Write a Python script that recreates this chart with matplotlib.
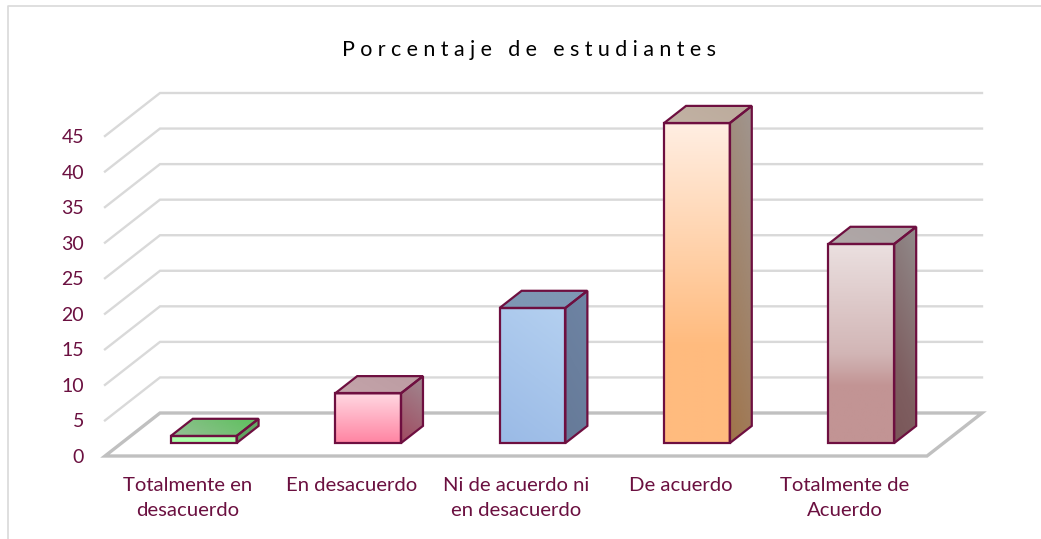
import numpy as np
import matplotlib
matplotlib.use('Agg')
import matplotlib.pyplot as plt
from matplotlib.colors import LinearSegmentedColormap
from matplotlib.lines import Line2D
from matplotlib.patches import Polygon

# data
categories = ['Totalmente en\ndesacuerdo', 'En desacuerdo', 'Ni de acuerdo ni\nen desacuerdo',
              'De acuerdo', 'Totalmente de\nAcuerdo']
values = [1, 7, 19, 45, 28]
y_ticks = list(range(0, 50, 5))
title = '\u2005'.join('Porcentaje de estudiantes')

# colours: (start, end) gradients, bottom to top
front_colors = [
    [(0, '#A6FFA6'), (1, '#B0FFB0')],
    [(0, '#FF84A2'), (1, '#FFD8E2')],
    [(0, '#9ABAE6'), (1, '#B4D0F0')],
    [(0, '#FFBB7E'), (0.3, '#FFBB7E'), (1, '#FFEEE2')],
    [(0, '#C29494'), (0.28, '#C29494'), (0.45, '#D2B6B6'), (1, '#EBE0E0')],
]
side_colors = [
    [(0, '#5F9F5F'), (1, '#66AA66')],
    [(0, '#A04A60'), (1, '#A08890')],
    [(0, '#667A98'), (1, '#6E84A4')],
    [(0, '#A0744A'), (1, '#A09690')],
    [(0, '#7A5658'), (0.3, '#7E5E60'), (1, '#928C8C')],
]
top_colors = [
    [(0, '#95C095'), (1, '#5CC05C')],
    [(0, '#C4A4AA'), (1, '#BC9CA2')],
    [(0, '#7E97B4'), (1, '#7E97B4')],
    [(0, '#C2B2A4'), (1, '#BCAB9C')],
    [(0, '#B0A8A8'), (1, '#ABA2A2')],
]
edge = '#6E0F40'
text_color = '#6B1040'
grid_color = '#D9D9D9'
floor_color = '#C0C0C0'

# layout in pixels
W, H = 1041, 539
x0_px, x1_px = 105, 927
y0_px, y45_px = 456, 136
DX, DY = 55 / ((x1_px - x0_px) / 5), 43 / ((y0_px - y45_px) / 45)
bar_w = 0.4
depth_front, depth_back = 0.3, 0.7


def project(x, y, depth):
    return (x + depth * DX, y + depth * DY)


def shade(ax, verts, stops, angle):
    # gradient image clipped to the face
    verts = np.array(verts)
    cmap = LinearSegmentedColormap.from_list('f', stops)
    u, v = np.meshgrid(np.linspace(0, 1, 64), np.linspace(0, 1, 128))
    c, s = np.cos(np.radians(angle)), np.sin(np.radians(angle))
    t = (c * u + s * v) / (abs(c) + abs(s))
    if c < 0:
        t = t - t.min()
    ext = [verts[:, 0].min(), verts[:, 0].max(), verts[:, 1].min(), verts[:, 1].max()]
    im = ax.imshow(t, cmap=cmap, vmin=0, vmax=1, extent=ext, origin='lower',
                   aspect='auto', zorder=3, interpolation='bilinear')
    im.set_clip_path(Polygon(verts, transform=ax.transData))
    ax.add_patch(Polygon(verts, closed=True, fill=False, edgecolor=edge, lw=1.6,
                         joinstyle='miter', zorder=4, clip_on=False))


fig = plt.figure(figsize=(W / 100, H / 100), dpi=100)
ax = fig.add_axes([0, 0, 1, 1])
fig.patch.set_facecolor('white')

x_max = 5 + DX
y_max = 45 + DY
py = (y0_px - y45_px) / 45
ax.set_position([x0_px / W, 1 - y0_px / H, (x1_px - x0_px) / 5 * x_max / W, py * y_max / H])

# walls and floor
for tick in y_ticks[1:]:
    p0 = project(0, tick, 0)
    p1 = project(0, tick, 1)
    p2 = project(5, tick, 1)
    ax.plot([p0[0], p1[0], p2[0]], [p0[1], p1[1], p2[1]], color=grid_color, lw=1.7, zorder=1,
            solid_joinstyle='miter', clip_on=False)
floor = [project(0, 0, 0), project(5, 0, 0), project(5, 0, 1), project(0, 0, 1)]
ax.add_patch(Polygon(floor, closed=True, fill=False, edgecolor=floor_color, lw=2.4, zorder=2,
                     joinstyle='miter', clip_on=False))

# bars
for i, val in enumerate(values):
    left = i + 0.5 - bar_w / 2
    right = i + 0.5 + bar_w / 2
    fb = project(left, 0, depth_front)
    fr = project(right, 0, depth_front)
    ft_l = project(left, val, depth_front)
    ft_r = project(right, val, depth_front)
    bb = project(right, 0, depth_back)
    bt_r = project(right, val, depth_back)
    bt_l = project(left, val, depth_back)
    shade(ax, [fr, bb, bt_r, ft_r], side_colors[i], 75)
    shade(ax, [ft_l, ft_r, bt_r, bt_l], top_colors[i], 20)
    shade(ax, [fb, fr, ft_r, ft_l], front_colors[i], 90 if i != 2 else 70)

ax.set_xlim(0, x_max)
ax.set_ylim(0, y_max)
ax.set_xticks([i + 0.5 for i in range(5)])
ax.set_xticklabels(categories, fontfamily=['Lato', 'DejaVu Sans'], fontsize=14.6,
                   color=text_color, linespacing=1.6)
ax.set_yticks(y_ticks)
ax.set_yticklabels([str(t) for t in y_ticks], fontfamily=['Lato', 'DejaVu Sans'], fontsize=14,
                   color=text_color)
ax.tick_params(axis='x', length=0, pad=15)
ax.tick_params(axis='y', length=0, pad=15)
for spine in ax.spines.values():
    spine.set_visible(False)
ax.patch.set_visible(False)

fig.text(529.5 / W, 1 - 50 / H, title, ha='center', va='center', fontsize=15.5, color='black',
         family=['Lato', 'DejaVu Sans'])

# chart frame
fig.add_artist(Line2D([8 / W, 8 / W, 1], [0, 1 - 6 / H, 1 - 6 / H], color=grid_color, lw=1.2))

fig.savefig('out.png', dpi=100)
